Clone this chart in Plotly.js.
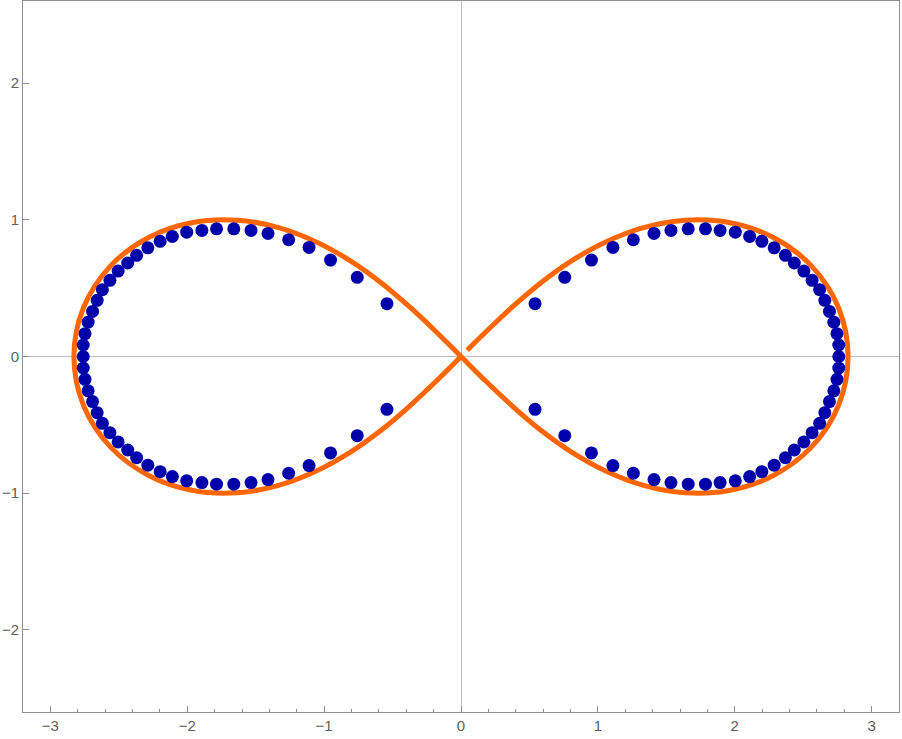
<!DOCTYPE html>
<html>
<head>
<meta charset="utf-8">
<script src="https://cdn.plot.ly/plotly-3.0.1.min.js"></script>
<style>html,body{margin:0;padding:0;background:#fff;}#chart{width:902px;height:739px;}</style>
</head>
<body>
<div id="chart"></div>
<script>
// Orange curve (lemniscate)
const curveX = [0.045,0.186,0.379,0.584,0.808,1.057,1.333,1.637,1.959,2.279,2.560,2.757,2.828,2.757,2.560,2.279,1.959,1.637,1.333,1.057,0.808,0.584,0.379,0.186,0,
  -0.186,-0.379,-0.584,-0.808,-1.057,-1.333,-1.637,-1.959,-2.279,-2.560,-2.757,-2.828,-2.757,-2.560,-2.279,-1.959,-1.637,-1.333,-1.057,-0.808,-0.584,-0.379,-0.186,0];
const curveY = [0.046,0.185,0.366,0.540,0.700,0.838,0.943,0.997,0.980,0.872,0.663,0.360,0,-0.360,-0.663,-0.872,-0.980,-0.997,-0.943,-0.838,-0.700,-0.540,-0.366,-0.185,0,
  0.185,0.366,0.540,0.700,0.838,0.943,0.997,0.980,0.872,0.663,0.360,0,-0.360,-0.663,-0.872,-0.980,-0.997,-0.943,-0.838,-0.700,-0.540,-0.366,-0.185,0];

// Blue sample points
const pointsX = [
  0.541,0.758,0.953,1.110,1.259,1.410,1.534,1.660,1.786,1.893,2.004,2.109,2.198,2.288,2.370,2.435,2.505,2.565,2.620,2.658,2.692,2.724,2.747,2.760,
  2.760,
  2.760,2.747,2.724,2.692,2.658,2.620,2.565,2.505,2.435,2.370,2.288,2.198,2.109,2.004,1.893,1.786,1.660,1.534,1.410,1.259,1.110,0.953,0.758,0.541,
  -0.541,-0.758,-0.953,-1.110,-1.259,-1.410,-1.534,-1.660,-1.786,-1.893,-2.004,-2.109,-2.198,-2.288,-2.370,-2.435,-2.505,-2.565,-2.620,-2.658,-2.692,-2.724,-2.747,-2.760,
  -2.760,
  -2.760,-2.747,-2.724,-2.692,-2.658,-2.620,-2.565,-2.505,-2.435,-2.370,-2.288,-2.198,-2.109,-2.004,-1.893,-1.786,-1.660,-1.534,-1.410,-1.259,-1.110,-0.953,-0.758,-0.541
];
const pointsY = [
  0.386,0.579,0.705,0.798,0.854,0.900,0.922,0.934,0.934,0.922,0.909,0.878,0.842,0.795,0.740,0.684,0.625,0.557,0.489,0.411,0.330,0.251,0.167,0.084,
  0,
  -0.084,-0.167,-0.251,-0.330,-0.411,-0.489,-0.557,-0.625,-0.684,-0.740,-0.795,-0.842,-0.878,-0.909,-0.922,-0.934,-0.934,-0.922,-0.900,-0.854,-0.798,-0.705,-0.579,-0.386,
  0.386,0.579,0.705,0.798,0.854,0.900,0.922,0.934,0.934,0.922,0.909,0.878,0.842,0.795,0.740,0.684,0.625,0.557,0.489,0.411,0.330,0.251,0.167,0.084,
  0,
  -0.084,-0.167,-0.251,-0.330,-0.411,-0.489,-0.557,-0.625,-0.684,-0.740,-0.795,-0.842,-0.878,-0.909,-0.922,-0.934,-0.934,-0.922,-0.900,-0.854,-0.798,-0.705,-0.579,-0.386
];

const xTicks = [-3,-2,-1,0,1,2,3];
const yTicks = [-2,-1,0,1,2];

const traces = [
  {x: curveX, y: curveY, type: 'scatter', mode: 'lines',
   line: {color: '#ff6600', width: 5, shape: 'spline', smoothing: 1}, hoverinfo: 'skip'},
  {x: pointsX, y: pointsY, type: 'scatter', mode: 'markers',
   marker: {color: '#0000aa', size: 13}}
];

const axisCommon = {
  showgrid: false, zeroline: true, zerolinecolor: '#bdbdbd', zerolinewidth: 1,
  showline: true, linecolor: '#8f8f8f', linewidth: 1, mirror: true,
  ticks: 'inside', tickcolor: '#8f8f8f', ticklen: 6, tickwidth: 1,
  tickfont: {family: 'Liberation Sans, Arial, sans-serif', size: 15, color: '#5e5e5e'},
  fixedrange: true
};

const layout = {
  width: 902, height: 739,
  margin: {l: 23, r: 3, t: 1, b: 27, pad: 0},
  paper_bgcolor: '#fff', plot_bgcolor: '#fff',
  showlegend: false,
  xaxis: Object.assign({}, axisCommon, {range: [-3.2, 3.2], tickvals: xTicks, ticktext: xTicks.map(v => v < 0 ? '\u2212' + Math.abs(v) : String(v)),
    minor: {dtick: 0.2, tick0: 0, ticks: 'inside', ticklen: 3.5, tickcolor: '#8f8f8f', showgrid: false}}),
  yaxis: Object.assign({}, axisCommon, {range: [-2.6, 2.6], tickvals: yTicks, ticktext: yTicks.map(v => v < 0 ? '\u2212' + Math.abs(v) : String(v))})
};

Plotly.newPlot('chart', traces, layout, {displayModeBar: false, staticPlot: true});
</script>
</body>
</html>
